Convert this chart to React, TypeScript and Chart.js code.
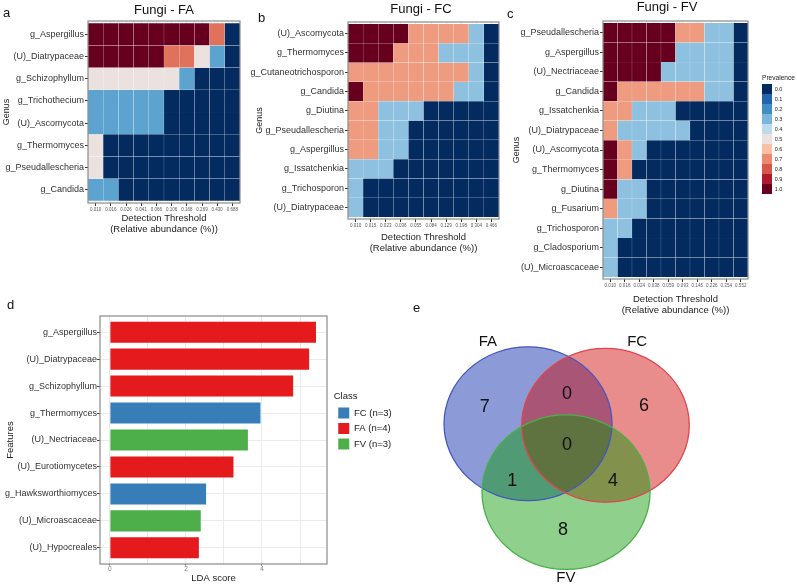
import React, { useEffect, useRef } from "react";
import { Chart, registerables } from "chart.js";

Chart.register(...registerables);
Chart.defaults.font.family = '"Liberation Sans", Arial, Helvetica, sans-serif';
Chart.defaults.color = "#333";

// ---------------- data ----------------
const FA_GENERA = ["g_Aspergillus", "(U)_Diatrypaceae", "g_Schizophyllum", "g_Trichothecium", "(U)_Ascomycota", "g_Thermomyces", "g_Pseudallescheria", "g_Candida"];
const FA_THRESHOLDS = ["0.010", "0.016", "0.026", "0.041", "0.066", "0.106", "0.168", "0.269", "0.430", "0.688"];
const FA_PREVALENCE = [
  [1, 1, 1, 1, 1, 1, 1, 1, 0.75, 0],
  [1, 1, 1, 1, 1, 0.75, 0.75, 0.5, 0.25, 0],
  [0.5, 0.5, 0.5, 0.5, 0.5, 0.5, 0.25, 0, 0, 0],
  [0.25, 0.25, 0.25, 0.25, 0.25, 0, 0, 0, 0, 0],
  [0.25, 0.25, 0.25, 0.25, 0.25, 0, 0, 0, 0, 0],
  [0.5, 0, 0, 0, 0, 0, 0, 0, 0, 0],
  [0.5, 0, 0, 0, 0, 0, 0, 0, 0, 0],
  [0.25, 0.25, 0, 0, 0, 0, 0, 0, 0, 0],
];

const FC_GENERA = ["(U)_Ascomycota", "g_Thermomyces", "g_Cutaneotrichosporon", "g_Candida", "g_Diutina", "g_Pseudallescheria", "g_Aspergillus", "g_Issatchenkia", "g_Trichosporon", "(U)_Diatrypaceae"];
const FC_THRESHOLDS = ["0.010", "0.015", "0.023", "0.036", "0.055", "0.084", "0.129", "0.198", "0.304", "0.466"];
const FC_PREVALENCE = [
  [1, 1, 1, 1, 0.67, 0.67, 0.67, 0.67, 0.33, 0],
  [1, 1, 1, 0.67, 0.67, 0.67, 0.33, 0.33, 0.33, 0],
  [0.67, 0.67, 0.67, 0.67, 0.67, 0.67, 0.67, 0.67, 0.33, 0],
  [1, 0.67, 0.67, 0.67, 0.67, 0.67, 0.67, 0.33, 0.33, 0],
  [0.67, 0.67, 0.33, 0.33, 0.33, 0, 0, 0, 0, 0],
  [0.67, 0.67, 0.33, 0.33, 0, 0, 0, 0, 0, 0],
  [0.67, 0.67, 0.33, 0.33, 0, 0, 0, 0, 0, 0],
  [0.33, 0.33, 0.33, 0, 0, 0, 0, 0, 0, 0],
  [0.33, 0, 0, 0, 0, 0, 0, 0, 0, 0],
  [0.33, 0, 0, 0, 0, 0, 0, 0, 0, 0],
];

const FV_GENERA = ["g_Pseudallescheria", "g_Aspergillus", "(U)_Nectriaceae", "g_Candida", "g_Issatchenkia", "(U)_Diatrypaceae", "(U)_Ascomycota", "g_Thermomyces", "g_Diutina", "g_Fusarium", "g_Trichosporon", "g_Cladosporium", "(U)_Microascaceae"];
const FV_THRESHOLDS = ["0.010", "0.016", "0.024", "0.038", "0.059", "0.093", "0.145", "0.226", "0.354", "0.552"];
const FV_PREVALENCE = [
  [1, 1, 1, 1, 1, 0.67, 0.67, 0.33, 0.33, 0],
  [1, 1, 1, 1, 1, 0.33, 0.33, 0.33, 0.33, 0],
  [1, 1, 1, 1, 0.33, 0.33, 0.33, 0.33, 0.33, 0],
  [1, 0.67, 0.67, 0.67, 0.67, 0.67, 0.67, 0.33, 0.33, 0],
  [0.67, 0.67, 0.33, 0.33, 0.33, 0, 0, 0, 0, 0],
  [0.67, 0.33, 0.33, 0.33, 0.33, 0.33, 0, 0, 0, 0],
  [1, 0.67, 0.33, 0, 0, 0, 0, 0, 0, 0],
  [1, 0.67, 0, 0, 0, 0, 0, 0, 0, 0],
  [1, 0.33, 0.33, 0, 0, 0, 0, 0, 0, 0],
  [0.67, 0.33, 0.33, 0, 0, 0, 0, 0, 0, 0],
  [0.33, 0.33, 0, 0, 0, 0, 0, 0, 0, 0],
  [0.33, 0, 0, 0, 0, 0, 0, 0, 0, 0],
  [0.33, 0, 0, 0, 0, 0, 0, 0, 0, 0],
];

const PREVALENCE_LEVELS = [0, 0.1, 0.2, 0.3, 0.4, 0.5, 0.6, 0.7, 0.8, 0.9, 1.0];
const PREVALENCE_COLORS = ["#032b60", "#2166ac", "#3f8fc4", "#7ab6db", "#bcdbec", "#ebe2df", "#f8c0a6", "#ea8b70", "#d55848", "#b01a2c", "#67001f"];

const LDA_FEATURES = ["g_Aspergillus", "(U)_Diatrypaceae", "g_Schizophyllum", "g_Thermomyces", "(U)_Nectriaceae", "(U)_Eurotiomycetes", "g_Hawksworthiomyces", "(U)_Microascaceae", "(U)_Hypocreales"];
const LDA_SCORES = [5.42, 5.24, 4.82, 3.96, 3.63, 3.25, 2.53, 2.39, 2.34];
const LDA_CLASS = ["FA", "FA", "FA", "FC", "FV", "FA", "FC", "FV", "FA"];
const CLASS_NAMES = ["FC", "FA", "FV"];
const CLASS_LABELS = ["FC (n=3)", "FA (n=4)", "FV (n=3)"];
const CLASS_COLORS = ["#377eb8", "#e41a1c", "#4daf4a"];

const VENN_SET_NAMES = ["FA", "FC", "FV"];
const VENN_CENTER_X = [2.865, 4.92, 3.873];
const VENN_CENTER_Y = [4.33, 4.29, 2.515];
const VENN_RADIUS_X = [2.228, 2.222, 2.228];
const VENN_RADIUS_Y = [2.04, 2.04, 2.05];
const VENN_FILLS = ["rgba(0,33,166,0.45)", "rgba(204,0,0,0.45)", "rgba(6,153,0,0.45)"];
const VENN_STROKES = ["#4256c2", "#e0454d", "#49b046"];
const VENN_NAME_X = [1.8, 5.76, 3.87];
const VENN_NAME_Y = [6.5, 6.5, 0.24];
const VENN_REGIONS = ["FA", "FC", "FV", "FA∩FC", "FA∩FV", "FC∩FV", "FA∩FC∩FV"];
const VENN_COUNTS = [7, 6, 8, 0, 1, 4, 0];
const VENN_COUNT_X = [1.72, 5.94, 3.79, 3.9, 2.45, 5.12, 3.9];
const VENN_COUNT_Y = [4.77, 4.79, 1.51, 5.13, 2.8, 2.8, 3.77];

// ---------------- helpers ----------------
function hexToRgb(h: string) {
  const n = parseInt(h.slice(1), 16);
  return [(n >> 16) & 255, (n >> 8) & 255, n & 255];
}
function prevalenceColor(v: number) {
  const t = Math.max(0, Math.min(1, v)) * 10;
  const i = Math.min(9, Math.floor(t));
  const f = t - i;
  const a = hexToRgb(PREVALENCE_COLORS[i]);
  const b = hexToRgb(PREVALENCE_COLORS[i + 1]);
  const c = a.map((av, k) => Math.round(av + (b[k] - av) * f));
  return `rgb(${c[0]},${c[1]},${c[2]})`;
}

const panelBorder = {
  id: "panelBorder",
  afterDatasetsDraw(chart: any) {
    const { ctx, chartArea: a } = chart;
    ctx.save();
    ctx.strokeStyle = "#8a8a8a";
    ctx.lineWidth = 1.2;
    ctx.strokeRect(a.left, a.top, a.right - a.left, a.bottom - a.top);
    ctx.restore();
  },
};

// give the legend box a fixed width so its title is not clipped
function fixedLegendWidth(width: number) {
  return {
    id: "fixedLegendWidth",
    beforeLayout(chart: any) {
      const lg = chart.legend;
      if (lg && !lg.__fixedWidth) {
        const orig = lg.fit.bind(lg);
        lg.fit = function () {
          orig();
          this.width = width;
        };
        lg.__fixedWidth = true;
      }
    },
  };
}

type Lay = { yW: number; xH: number; top: number; right: number; gPad: number };

function heatmapConfig(genera: string[], thresholds: string[], prev: number[][], lay: Lay, withLegend: boolean): any {
  const n = genera.length;
  const scales: any = {
    x: {
      type: "category",
      stacked: true,
      offset: true,
      grid: { offset: false, color: "#ebebeb", tickColor: "#333", tickLength: 3 },
      border: { display: false },
      ticks: { font: { size: 4.5 }, color: "#555", autoSkip: false, maxRotation: 0, minRotation: 0, padding: 1.5 },
      title: {
        display: true,
        text: ["Detection Threshold", "(Relative abundance (%))"],
        font: { size: 9.5, lineHeight: 1.21 },
        color: "#222",
        padding: { top: 0, bottom: 4.5 },
      },
      afterFit: (s: any) => {
        s.height = lay.xH;
      },
    },
    y: {
      type: "linear",
      stacked: true,
      reverse: true,
      offset: false,
      min: -0.1,
      max: n + 0.1,
      afterBuildTicks: (s: any) => {
        s.ticks = genera.map((_, i) => ({ value: i + 0.5 }));
      },
      afterFit: (s: any) => {
        s.width = lay.yW;
      },
      ticks: {
        autoSkip: false,
        callback: (v: any) => genera[Math.round(Number(v) - 0.5)] ?? "",
        font: { size: 9 },
        color: "#333",
        padding: 1,
      },
      grid: { color: "#ebebeb", tickColor: "#333", tickLength: 3 },
      border: { display: false },
      title: { display: true, text: "Genus", font: { size: 9 }, color: "#222", padding: { top: lay.gPad, bottom: 0 } },
    },
  };
  if (withLegend) {
    scales.gap = {
      type: "linear",
      position: "right",
      display: true,
      grid: { display: false },
      ticks: { display: false },
      border: { display: false },
      afterFit: (s: any) => {
        s.width = 14;
      },
    };
  }
  return {
    type: "bar",
    data: {
      labels: thresholds,
      datasets: genera.map((g, r) => ({
        label: g,
        data: thresholds.map(() => 1),
        backgroundColor: prev[r].map(prevalenceColor),
        borderColor: "rgba(255,255,255,0.25)",
        borderWidth: 0.4,
        borderSkipped: false,
        barPercentage: 1,
        categoryPercentage: 1,
      })),
    },
    options: {
      responsive: false,
      animation: false,
      devicePixelRatio: 1,
      layout: { padding: { top: lay.top, right: lay.right, left: 0, bottom: 0 } },
      plugins: {
        tooltip: { enabled: false },
        legend: withLegend
          ? {
              display: true,
              position: "right",
              align: "start",
              onClick: null,
              title: { display: true, text: "Prevalence", position: "start", font: { size: 6.6 }, color: "#222", padding: { top: 53.7, bottom: 1.4 } },
              labels: {
                boxWidth: 10,
                boxHeight: 10,
                padding: 0,
                font: { size: 5.5 },
                color: "#333",
                generateLabels: () =>
                  PREVALENCE_LEVELS.map((v, i) => ({
                    text: v.toFixed(1),
                    fillStyle: PREVALENCE_COLORS[i],
                    strokeStyle: PREVALENCE_COLORS[i],
                    lineWidth: 0,
                    hidden: false,
                    index: i,
                  })),
              },
            }
          : { display: false },
      },
      scales,
    },
    plugins: withLegend ? [panelBorder, fixedLegendWidth(35)] : [panelBorder],
  };
}

function ldaConfig(): any {
  return {
    type: "bar",
    data: {
      datasets: [
        {
          label: "LDA score",
          data: LDA_SCORES.map((s, i) => ({ x: s, y: i })),
          backgroundColor: LDA_CLASS.map((c) => CLASS_COLORS[CLASS_NAMES.indexOf(c)]),
          borderWidth: 0,
          barPercentage: 0.78,
          categoryPercentage: 1,
        },
      ],
    },
    options: {
      indexAxis: "y",
      responsive: false,
      animation: false,
      devicePixelRatio: 1,
      layout: { padding: { top: 26, right: 26.25, left: 0, bottom: 0 } },
      plugins: {
        tooltip: { enabled: false },
        legend: {
          display: true,
          position: "right",
          align: "start",
          maxWidth: 60,
          onClick: null,
          title: { display: true, text: "Class", position: "start", font: { size: 9.5 }, color: "#222", padding: { top: 75.5, bottom: 0 } },
          labels: {
            boxWidth: 11,
            boxHeight: 11,
            padding: 4.5,
            font: { size: 9.5 },
            color: "#222",
            generateLabels: () =>
              CLASS_LABELS.map((t, i) => ({
                text: t,
                fillStyle: CLASS_COLORS[i],
                strokeStyle: CLASS_COLORS[i],
                lineWidth: 0,
                hidden: false,
                index: i,
              })),
          },
        },
      },
      scales: {
        x: {
          type: "linear",
          min: -0.26,
          max: 5.71,
          afterBuildTicks: (s: any) => {
            s.ticks = [0, 1, 2, 3, 4, 5].map((v) => ({ value: v }));
          },
          afterFit: (s: any) => {
            s.height = 23;
          },
          ticks: { callback: (v: any) => (Number(v) % 2 === 0 ? String(v) : ""), font: { size: 6.5 }, color: "#7f7f7f", padding: 0, autoSkip: false, maxRotation: 0 },
          grid: { color: "#ebebeb", tickLength: 1.5, tickColor: (c: any) => (c.tick && c.tick.value % 2 === 0 ? "#555" : "rgba(0,0,0,0)") },
          border: { display: false },
          title: { display: true, text: "LDA score", font: { size: 9.5 }, color: "#222", padding: { top: 0, bottom: 3.3 } },
        },
        y: {
          type: "linear",
          reverse: true,
          offset: false,
          min: -0.6,
          max: 8.6,
          afterBuildTicks: (s: any) => {
            s.ticks = LDA_FEATURES.map((_, i) => ({ value: i }));
          },
          afterFit: (s: any) => {
            s.width = 100;
          },
          ticks: { autoSkip: false, callback: (v: any) => LDA_FEATURES[Math.round(Number(v))] ?? "", font: { size: 9 }, color: "#333", padding: 0 },
          grid: { offset: false, color: "#ebebeb", tickColor: "#444", tickLength: 3 },
          border: { display: false },
          title: { display: true, text: "Features", font: { size: 9.5 }, color: "#222", padding: { top: 4.3, bottom: 0 } },
        },
        gap: {
          type: "linear",
          position: "right",
          display: true,
          grid: { display: false },
          ticks: { display: false },
          border: { display: false },
          afterFit: (s: any) => {
            s.width = 6.75;
          },
        },
      },
    },
    plugins: [panelBorder],
  };
}

const vennPlugin = {
  id: "vennDraw",
  afterDatasetsDraw(chart: any) {
    const { ctx, scales } = chart;
    const x = scales.x;
    const y = scales.y;
    ctx.save();
    VENN_SET_NAMES.forEach((_, i) => {
      const el = chart.getDatasetMeta(i).data[0];
      const cx = el.x;
      const cy = el.y;
      const rx = Math.abs(x.getPixelForValue(VENN_CENTER_X[i] + VENN_RADIUS_X[i]) - cx);
      const ry = Math.abs(y.getPixelForValue(VENN_CENTER_Y[i] + VENN_RADIUS_Y[i]) - cy);
      ctx.beginPath();
      ctx.ellipse(cx, cy, rx, ry, 0, 0, Math.PI * 2);
      ctx.fillStyle = VENN_FILLS[i];
      ctx.fill();
    });
    VENN_SET_NAMES.forEach((_, i) => {
      const el = chart.getDatasetMeta(i).data[0];
      const rx = Math.abs(x.getPixelForValue(VENN_CENTER_X[i] + VENN_RADIUS_X[i]) - el.x);
      const ry = Math.abs(y.getPixelForValue(VENN_CENTER_Y[i] + VENN_RADIUS_Y[i]) - el.y);
      ctx.beginPath();
      ctx.ellipse(el.x, el.y, rx, ry, 0, 0, Math.PI * 2);
      ctx.strokeStyle = VENN_STROKES[i];
      ctx.lineWidth = 1.3;
      ctx.stroke();
    });
    ctx.fillStyle = "#111";
    ctx.textAlign = "center";
    ctx.textBaseline = "middle";
    const family = Chart.defaults.font.family;
    ctx.font = `18px ${family}`;
    const countMeta = chart.getDatasetMeta(3);
    countMeta.data.forEach((el: any, i: number) => {
      ctx.fillText(String(VENN_COUNTS[i]), el.x, el.y);
    });
    ctx.font = `15px ${family}`;
    const nameMeta = chart.getDatasetMeta(4);
    nameMeta.data.forEach((el: any, i: number) => {
      ctx.fillText(VENN_SET_NAMES[i], el.x, el.y);
    });
    ctx.restore();
  },
};

function vennConfig(): any {
  return {
    type: "scatter",
    data: {
      datasets: [
        ...VENN_SET_NAMES.map((name, i) => ({
          label: name,
          data: [{ x: VENN_CENTER_X[i], y: VENN_CENTER_Y[i] }],
          pointRadius: 0,
        })),
        {
          label: "counts",
          data: VENN_REGIONS.map((_, i) => ({ x: VENN_COUNT_X[i], y: VENN_COUNT_Y[i] })),
          pointRadius: 0,
        },
        {
          label: "names",
          data: VENN_SET_NAMES.map((_, i) => ({ x: VENN_NAME_X[i], y: VENN_NAME_Y[i] })),
          pointRadius: 0,
        },
      ],
    },
    options: {
      responsive: false,
      animation: false,
      devicePixelRatio: 1,
      layout: { padding: 0 },
      plugins: { legend: { display: false }, tooltip: { enabled: false } },
      scales: {
        x: { type: "linear", min: 0, max: 10, display: false },
        y: { type: "linear", min: 0, max: 7.613, display: false },
      },
    },
    plugins: [vennPlugin],
  };
}

// ---------------- components ----------------
function ChartBox({ x, y, w, h, make }: { x: number; y: number; w: number; h: number; make: () => any }) {
  const ref = useRef<HTMLCanvasElement>(null);
  useEffect(() => {
    const chart = new Chart(ref.current as HTMLCanvasElement, make());
    return () => chart.destroy();
  }, []);
  return (
    <div style={{ position: "absolute", left: x, top: y, width: w, height: h }}>
      <canvas ref={ref} width={w} height={h} style={{ display: "block", width: w, height: h }} />
    </div>
  );
}

function Label({ text, x, baseline, size = 13, center = false }: { text: string; x: number; baseline: number; size?: number; center?: boolean }) {
  const top = baseline - size * 0.846;
  return (
    <div
      style={{
        position: "absolute",
        left: center ? x - 80 : x,
        width: center ? 160 : undefined,
        textAlign: center ? "center" : "left",
        top,
        fontSize: size,
        lineHeight: `${size}px`,
        color: "#111",
        whiteSpace: "nowrap",
      }}
    >
      {text}
    </div>
  );
}

export default function App() {
  return (
    <div
      style={{
        position: "fixed",
        left: 0,
        top: 0,
        width: 797,
        height: 587,
        background: "#fff",
        overflow: "hidden",
        fontFamily: '"Liberation Sans", Arial, Helvetica, sans-serif',
      }}
    >
      <ChartBox x={0} y={0} w={250} h={240} make={() => heatmapConfig(FA_GENERA, FA_THRESHOLDS, FA_PREVALENCE, { yW: 88, xH: 37, top: 21, right: 10, gPad: 1.6 }, false)} />
      <ChartBox x={248} y={0} w={257} h={259} make={() => heatmapConfig(FC_GENERA, FC_THRESHOLDS, FC_PREVALENCE, { yW: 100, xH: 40, top: 22, right: 6, gPad: 6.6 }, false)} />
      <ChartBox x={505} y={0} w={292} h={321} make={() => heatmapConfig(FV_GENERA, FV_THRESHOLDS, FV_PREVALENCE, { yW: 98, xH: 42, top: 21, right: 0, gPad: 6.6 }, true)} />
      <ChartBox x={0} y={290} w={420} h={297} make={ldaConfig} />
      <ChartBox x={420} y={300} w={377} h={287} make={vennConfig} />

      <Label text="Fungi - FA" x={164} baseline={13.5} center />
      <Label text="Fungi - FC" x={421} baseline={12.5} center />
      <Label text="Fungi - FV" x={667} baseline={11} center />

      <Label text="a" x={3} baseline={17} />
      <Label text="b" x={258} baseline={22} />
      <Label text="c" x={507} baseline={18} />
      <Label text="d" x={7} baseline={309} />
      <Label text="e" x={413} baseline={312} />
    </div>
  );
}
